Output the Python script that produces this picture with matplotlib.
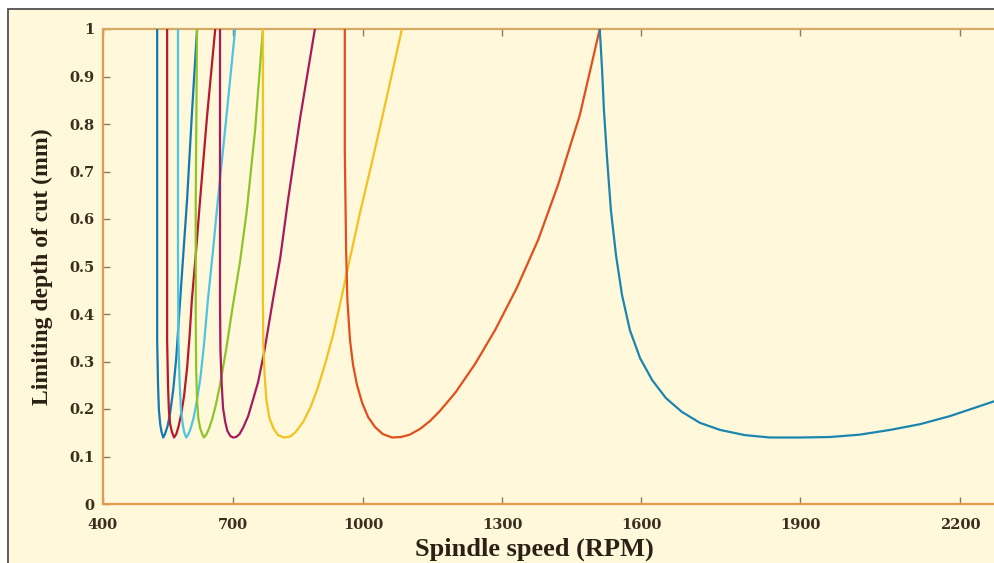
import numpy as np
import matplotlib
matplotlib.use("Agg")
import matplotlib.pyplot as plt
from matplotlib.patches import Rectangle

# ---------------- data ----------------
x_ticks = [400, 700, 1000, 1300, 1600, 1900, 2200]
y_ticks = [0, 0.1, 0.2, 0.3, 0.4, 0.5, 0.6, 0.7, 0.8, 0.9, 1.0]
y_tick_labels = ["0", "0.1", "0.2", "0.3", "0.4", "0.5", "0.6", "0.7", "0.8", "0.9", "1"]

lobe0_rpm = [1511, 1516, 1520, 1527, 1535, 1546, 1559, 1576, 1598, 1621, 1647, 1677, 1711, 1749,
             1796, 1843, 1900, 1956, 2012, 2069, 2125, 2181, 2266]
lobe0_depth = [1.0, 0.914, 0.829, 0.724, 0.619, 0.524, 0.44, 0.366, 0.307, 0.261, 0.223, 0.194, 0.171, 0.156,
               0.145, 0.14, 0.14, 0.141, 0.146, 0.156, 0.168, 0.185, 0.217]

lobe1_rpm = [958, 958, 961, 964, 970, 977, 986, 998, 1011, 1026, 1043, 1063, 1082, 1101, 1123, 1145,
             1166, 1199, 1242, 1285, 1332, 1378, 1421, 1468, 1511]
lobe1_depth = [1.0, 0.745, 0.535, 0.429, 0.345, 0.293, 0.251, 0.213, 0.183, 0.162, 0.147, 0.14, 0.141, 0.146,
               0.158, 0.175, 0.196, 0.234, 0.295, 0.366, 0.455, 0.556, 0.672, 0.819, 1.0]

lobe2_rpm = [769, 769, 770, 773, 777, 784, 794, 804, 818, 832, 845, 862, 878, 894, 912, 931, 949, 968,
             993, 1019, 1050, 1084]
lobe2_depth = [1.0, 0.429, 0.335, 0.272, 0.219, 0.181, 0.158, 0.145, 0.14, 0.142, 0.152, 0.173, 0.202, 0.24,
               0.293, 0.356, 0.429, 0.509, 0.613, 0.718, 0.851, 1.0]

lobe3_rpm = [670, 670, 671, 674, 677, 682, 687, 694, 700, 707, 715, 724, 735, 746, 758, 772, 792, 809, 827,
             855, 889]
lobe3_depth = [1.0, 0.429, 0.324, 0.251, 0.202, 0.173, 0.154, 0.143, 0.14, 0.141, 0.147, 0.162, 0.185, 0.219,
               0.257, 0.32, 0.429, 0.518, 0.64, 0.813, 1.0]

lobe4_rpm = [617, 614, 614, 615, 617, 620, 624, 629, 633, 639, 645, 652, 661, 670, 684, 698, 716, 732, 751, 769]
lobe4_depth = [1.0, 0.64, 0.387, 0.282, 0.219, 0.181, 0.16, 0.147, 0.14, 0.147, 0.16, 0.179, 0.211, 0.251,
               0.324, 0.408, 0.509, 0.619, 0.787, 1.0]

lobe5_rpm = [573, 573, 574, 577, 580, 584, 587, 592, 596, 602, 609, 617, 625, 633, 642, 654, 665, 684, 705]
lobe5_depth = [1.0, 0.535, 0.345, 0.251, 0.198, 0.168, 0.152, 0.14, 0.145, 0.158, 0.181, 0.219, 0.267, 0.335,
               0.429, 0.535, 0.64, 0.808, 1.0]

lobe6_rpm = [548, 548, 548, 550, 552, 555, 559, 564, 569, 574, 580, 587, 594, 600, 605, 615, 624, 640, 659]
lobe6_depth = [1.0, 0.535, 0.345, 0.251, 0.198, 0.168, 0.152, 0.14, 0.147, 0.162, 0.187, 0.227, 0.286, 0.356,
               0.429, 0.535, 0.64, 0.815, 1.0]

lobe7_rpm = [525, 525, 525, 527, 529, 532, 535, 539, 543, 549, 555, 562, 569, 578, 586, 594, 605, 617]
lobe7_depth = [1.0, 0.535, 0.345, 0.251, 0.198, 0.168, 0.152, 0.14, 0.147, 0.164, 0.192, 0.24, 0.307, 0.429,
               0.535, 0.64, 0.819, 1.0]

lobes = [
    (lobe7_rpm, lobe7_depth, "#1478B4"),
    (lobe6_rpm, lobe6_depth, "#B8182E"),
    (lobe5_rpm, lobe5_depth, "#4CC4E4"),
    (lobe4_rpm, lobe4_depth, "#8CC42A"),
    (lobe3_rpm, lobe3_depth, "#A41C5E"),
    (lobe2_rpm, lobe2_depth, "#F2C21E"),
    (lobe1_rpm, lobe1_depth, "#E0501C"),
    (lobe0_rpm, lobe0_depth, "#1A86B0"),
]

# ---------------- style ----------------
cream = "#FFF8DA"
spine_col = "#E39A4C"
top_col = "#D9A862"
tick_col = "#8A7A62"
text_col = "#3A2E1E"

W, H = 995, 563
fig = plt.figure(figsize=(W / 100, H / 100), dpi=100, facecolor="white")
border = Rectangle((8 / W, -0.2), 1.5, 1.2 - 9 / H, transform=fig.transFigure,
                   facecolor=cream, edgecolor="#505050", lw=1.3, zorder=-10)
fig.patches.append(border)

ax = fig.add_axes([103 / W, 59 / H, 892 / W, 475 / H])
ax.set_zorder(5)
ax.set_facecolor(cream)

# piecewise-linear x axis as in the reference (unequal tick spacing)
kv = np.array([0, 400, 700, 1000, 1300, 1600, 1900, 2200, 4000], dtype=float)
kp = np.array([-400 * 130 / 300, 0, 130, 260, 399, 538, 697, 857, 857 + 1800 * 160 / 300])


def fwd(v):
    return np.interp(v, kv, kp)


def inv(p):
    return np.interp(p, kp, kv)


ax.set_xscale("function", functions=(fwd, inv))

for rpm, depth, col in lobes:
    ax.plot(rpm, depth, color=col, lw=1.6, solid_capstyle="round", solid_joinstyle="round", zorder=3)

ax.set_xlim(400, 2265.6)
ax.set_ylim(0, 1)
ax.set_xticks(x_ticks)
ax.set_xticklabels([str(v) for v in x_ticks])
ax.set_yticks(y_ticks)
ax.set_yticklabels(y_tick_labels)
ax.xaxis.set_minor_locator(matplotlib.ticker.NullLocator())
ax.yaxis.set_minor_locator(matplotlib.ticker.NullLocator())

for s in ["left", "bottom"]:
    ax.spines[s].set_color(spine_col)
    ax.spines[s].set_linewidth(1.6)
ax.spines["top"].set_color(top_col)
ax.spines["top"].set_linewidth(1.6)
ax.spines["right"].set_visible(False)

ax.tick_params(axis="x", which="major", direction="in", top=True, bottom=True,
               length=5, width=1, color=tick_col, pad=10)
ax.tick_params(axis="y", which="major", direction="in", left=True, right=False,
               length=5, width=1, color=tick_col, pad=6)

for lab in ax.get_xticklabels() + ax.get_yticklabels():
    lab.set_fontfamily("DejaVu Serif")
    lab.set_fontweight("bold")
    lab.set_fontsize(10.5)
    lab.set_color(text_col)

ax.set_xlabel("Spindle speed (RPM)", fontfamily="Liberation Serif", fontweight="bold",
              fontsize=19, color="#2A2014")
ax.set_ylabel("Limiting depth of cut (mm)", fontfamily="Liberation Serif", fontweight="bold",
              fontsize=17, color="#2A2014")
ax.xaxis.set_label_coords(0.484, -0.07)
ax.yaxis.set_label_coords(-0.056, 0.5)

fig.savefig("out.png", dpi=100, facecolor=fig.get_facecolor())
